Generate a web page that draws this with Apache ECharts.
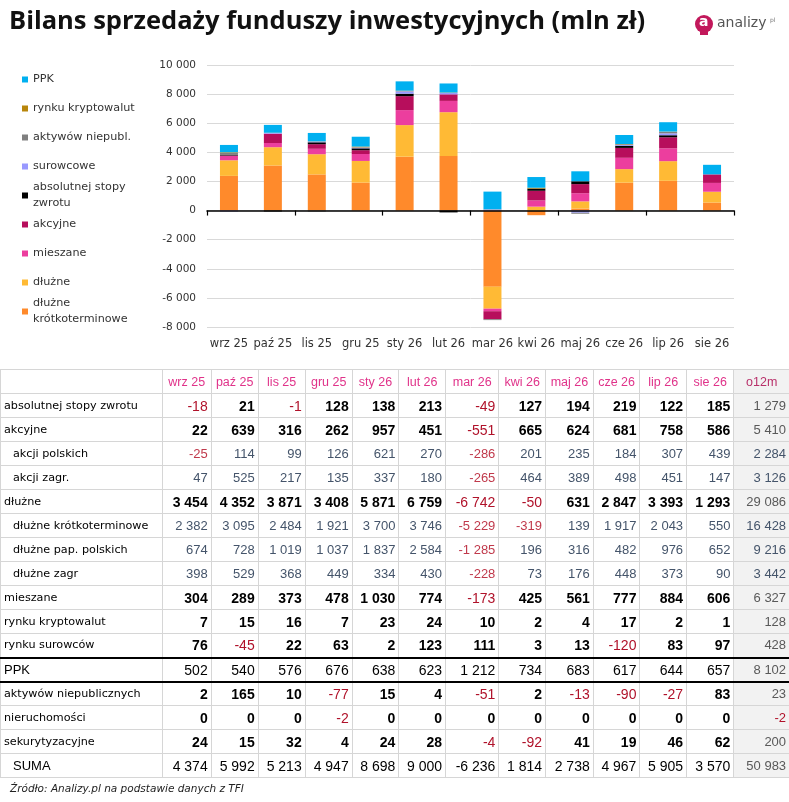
<!DOCTYPE html>
<html><head><meta charset="utf-8">
<script src="https://cdn.jsdelivr.net/npm/echarts@6/dist/echarts.min.js"></script>
<style>
html,body{margin:0;padding:0;background:#fff;width:789px;height:802px;overflow:hidden}
#chart{position:absolute;left:0;top:0;width:789px;height:370px}
#tbl{position:absolute;left:0;top:369px;border-collapse:collapse;table-layout:fixed;width:789px}
#tbl td{border:1px solid #D6D6D6;height:24px;padding:0 3px 0 0;text-align:right;font-family:"Liberation Sans",Arial,sans-serif;font-size:14px;color:#000;white-space:nowrap;overflow:hidden;line-height:22px;box-sizing:border-box}
#tbl td.lab{text-align:left;padding-left:3px;font-family:"DejaVu Sans",sans-serif;font-size:11.2px;color:#000}
#tbl td.ind{padding-left:12px}
#tbl tr.plain td.lab{font-family:"Liberation Sans",Arial,sans-serif;font-size:13px}
#tbl tr.main td{font-weight:bold}
#tbl tr.main td.lab{font-weight:normal}
#tbl tr.main td.neg{font-weight:normal;color:#B0122A}
#tbl tr.sub td{font-size:13px;color:#44546A}
#tbl tr.sub td.neg{color:#C0394B}
#tbl tr.sub td.lab{color:#000;font-size:11.2px}
#tbl td.tot{background:#F2F2F2;color:#595959;font-weight:normal !important;font-size:13px}
#tbl td.tot.neg{color:#B0122A}
#tbl tr.thick td{border-bottom:2px solid #000}
#tbl tr.hdr td{text-align:center;color:#E0338A;font-size:12.5px;padding:0}
#tbl tr.hdr td.tot{color:#B8306A;font-size:12.5px}
#src{position:absolute;left:10px;top:782px;font-family:"DejaVu Sans",sans-serif;font-style:italic;font-size:10.5px;color:#222}
</style></head>
<body>
<div id="chart"></div>
<table id="tbl"></table>
<div id="src">Źródło: Analizy.pl na podstawie danych z TFI</div>
<script>
// ---- categories ----
const months = ['wrz 25','paź 25','lis 25','gru 25','sty 26','lut 26','mar 26','kwi 26','maj 26','cze 26','lip 26','sie 26'];

// ---- chart series ----
const barKrotko    = [2382,3095,2484,1921,3700,3746,-5229,-319,139,1917,2043,550];
const barDluzne    = [1072,1257,1387,1487,2171,3013,-1513,269,492,930,1350,743];
const barMieszane  = [304,289,373,478,1030,774,-173,425,561,777,884,606];
const barAkcyjne   = [22,639,316,262,957,451,-551,665,624,681,758,586];
const barAbsolutne = [40,-60,130,128,170,-110,0,150,194,150,140,0];
const barSurowce   = [-60,50,50,60,160,100,80,0,-150,50,130,0];
const barAktywa    = [150,0,-60,0,20,-50,-60,0,-70,50,100,0];
const barKrypto    = [36,15,16,60,30,24,10,60,4,17,20,1];
const barPPK       = [502,540,576,676,638,623,1212,734,683,617,644,657];

// ---- y axis ticks ----
const yMin = -8000, yMax = 10000, yStep = 2000;

// ---- table values ----
const tAbs      = [-18,21,-1,128,138,213,-49,127,194,219,122,185];
const tAkcyjne  = [22,639,316,262,957,451,-551,665,624,681,758,586];
const tAkcPol   = [-25,114,99,126,621,270,-286,201,235,184,307,439];
const tAkcZagr  = [47,525,217,135,337,180,-265,464,389,498,451,147];
const tDluzne   = [3454,4352,3871,3408,5871,6759,-6742,-50,631,2847,3393,1293];
const tDlKrotko = [2382,3095,2484,1921,3700,3746,-5229,-319,139,1917,2043,550];
const tDlPol    = [674,728,1019,1037,1837,2584,-1285,196,316,482,976,652];
const tDlZagr   = [398,529,368,449,334,430,-228,73,176,448,373,90];
const tMieszane = [304,289,373,478,1030,774,-173,425,561,777,884,606];
const tKrypto   = [7,15,16,7,23,24,10,2,4,17,2,1];
const tSurowce  = [76,-45,22,63,2,123,111,3,13,-120,83,97];
const tPPK      = [502,540,576,676,638,623,1212,734,683,617,644,657];
const tAktywa   = [2,165,10,-77,15,4,-51,2,-13,-90,-27,83];
const tNieruch  = [0,0,0,-2,0,0,0,0,0,0,0,0];
const tSekur    = [24,15,32,4,24,28,-4,-92,41,19,46,62];
const tSuma     = [4374,5992,5213,4947,8698,9000,-6236,1814,2738,4967,5905,3570];
const tO12m     = [1279,5410,2284,3126,29086,16428,9216,3442,6327,128,428,8102,23,-2,200,50983];
const tLabels   = ['absolutnej stopy zwrotu','akcyjne','akcji polskich','akcji zagr.','dłużne','dłużne krótkoterminowe','dłużne pap. polskich','dłużne zagr','mieszane','rynku kryptowalut','rynku surowców','PPK','aktywów niepublicznych','nieruchomości','sekurytyzacyjne','SUMA'];

function fmt(v){
  const s = Math.abs(v).toString().replace(/\B(?=(\d{3})+(?!\d))/g,'\u00a0');
  return (v<0?'-':'') + s;
}

// ---- build table ----
const rowVals = [tAbs,tAkcyjne,tAkcPol,tAkcZagr,tDluzne,tDlKrotko,tDlPol,tDlZagr,tMieszane,tKrypto,tSurowce,tPPK,tAktywa,tNieruch,tSekur,tSuma];
const rowCls  = ['main','main','sub','sub','main','sub','sub','sub','main','main','main thick','plain thick','main','main','main','plain'];
const indented = {2:1,3:1,5:1,6:1,7:1,15:1};
const colW = [161.7,49,47,47,47,46.7,46.7,53.3,46.7,47.7,46.7,46.7,47.3,55.7];
const tbl = document.getElementById('tbl');
let html = '<colgroup>' + colW.map(w=>'<col style="width:'+w+'px">').join('') + '</colgroup>';
html += '<tr class="hdr"><td class="lab"></td>' + months.map(m=>'<td>'+m+'</td>').join('') + '<td class="tot">o12m</td></tr>';
rowVals.forEach((vals,i)=>{
  html += '<tr class="'+rowCls[i]+'"><td class="lab'+(indented[i]?' ind':'')+'">'+tLabels[i]+'</td>';
  vals.forEach(v=>{ html += '<td'+(v<0?' class="neg"':'')+'>'+fmt(v)+'</td>'; });
  const t = tO12m[i];
  html += '<td class="tot'+(t<0?' neg':'')+'">'+fmt(t)+'</td></tr>';
});
tbl.innerHTML = html;

// ---- chart ----
const seriesDefs = [
  ['dłużne krótkoterminowe', barKrotko, '#FF8A2B'],
  ['dłużne', barDluzne, '#FFBA35'],
  ['mieszane', barMieszane, '#EC3E9E'],
  ['akcyjne', barAkcyjne, '#B70E5C'],
  ['absolutnej stopy zwrotu', barAbsolutne, '#000000'],
  ['surowcowe', barSurowce, '#9999FF'],
  ['aktywów niepubl.', barAktywa, '#808080'],
  ['rynku kryptowalut', barKrypto, '#B8860B'],
  ['PPK', barPPK, '#00B0F0']
];
const legendOrder = ['PPK','rynku kryptowalut','aktywów niepubl.','surowcowe','absolutnej stopy zwrotu','akcyjne','mieszane','dłużne','dłużne krótkoterminowe'];
const legendText = {'absolutnej stopy zwrotu':'absolutnej stopy\nzwrotu','dłużne krótkoterminowe':'dłużne\nkrótkoterminowe'};

const legends = legendOrder.map((n,i)=>{
  const c = 79.5 + i*29;
  const two = !!legendText[n];
  return {
    data:[n], left:22, top: c - (two?24:8), padding:0, itemWidth:6, itemHeight:6, icon:'rect',
    selectedMode:false,
    formatter: name => legendText[name] || name,
    textStyle:{fontFamily:'DejaVu Sans', fontSize:11.2, color:'#333', lineHeight:16, padding: two?[16,0,0,0]:0}
  };
});

const chart = echarts.init(document.getElementById('chart'), null, {renderer:'canvas'});
chart.setOption({
  animation:false,
  title:{text:'Bilans sprzedaży funduszy inwestycyjnych (mln zł)', left:4, top:4,
    textStyle:{fontFamily:'Open Sans', fontWeight:700, fontSize:25.5, color:'#111'}},
  legend: legends,
  grid:{left:207, right:55, top:65, bottom:43},
  xAxis:[
    {type:'category', data:months, position:'bottom', axisLine:{show:false,onZero:false}, axisTick:{show:false},
     axisLabel:{fontFamily:'DejaVu Sans', fontSize:11.5, color:'#333', margin:11, interval:0}},
    {type:'category', data:months, position:'top', axisLine:{show:true,onZero:true,lineStyle:{color:'#000',width:1.5}},
     axisTick:{show:true,inside:true,length:5,lineStyle:{color:'#000',width:1.2}}, axisLabel:{show:false}, z:10}
  ],
  yAxis:{type:'value', min:yMin, max:yMax, interval:yStep,
    axisLine:{show:false}, axisTick:{show:false},
    splitLine:{lineStyle:{color:'#D9D9D9',width:1}},
    axisLabel:{fontFamily:'DejaVu Sans', fontSize:10.5, color:'#333', margin:11, formatter:v=>fmt(v).replace(/\u00a0/g,' ')}},
  series: seriesDefs.map(([n,d,c])=>({
    name:n, type:'bar', stack:'all', data:d, xAxisIndex:0, barWidth:'41%',
    itemStyle:{color:c}, emphasis:{disabled:true}
  })),
  graphic:[
    {type:'circle', shape:{cx:704, cy:24, r:9}, style:{fill:'#C2185B'}},
    {type:'rect', shape:{x:700, y:32, width:8, height:3}, style:{fill:'#C2185B'}},
    {type:'text', left:699, top:15, style:{text:'a', fill:'#fff', font:'bold 14px "DejaVu Sans"'}},
    {type:'text', left:717, top:16, style:{text:'analizy', fill:'#555', font:'14px "DejaVu Sans"'}},
    {type:'text', left:770, top:17, style:{text:'pl', fill:'#777', font:'6px "DejaVu Sans"'}}
  ]
});
</script>
</body></html>
